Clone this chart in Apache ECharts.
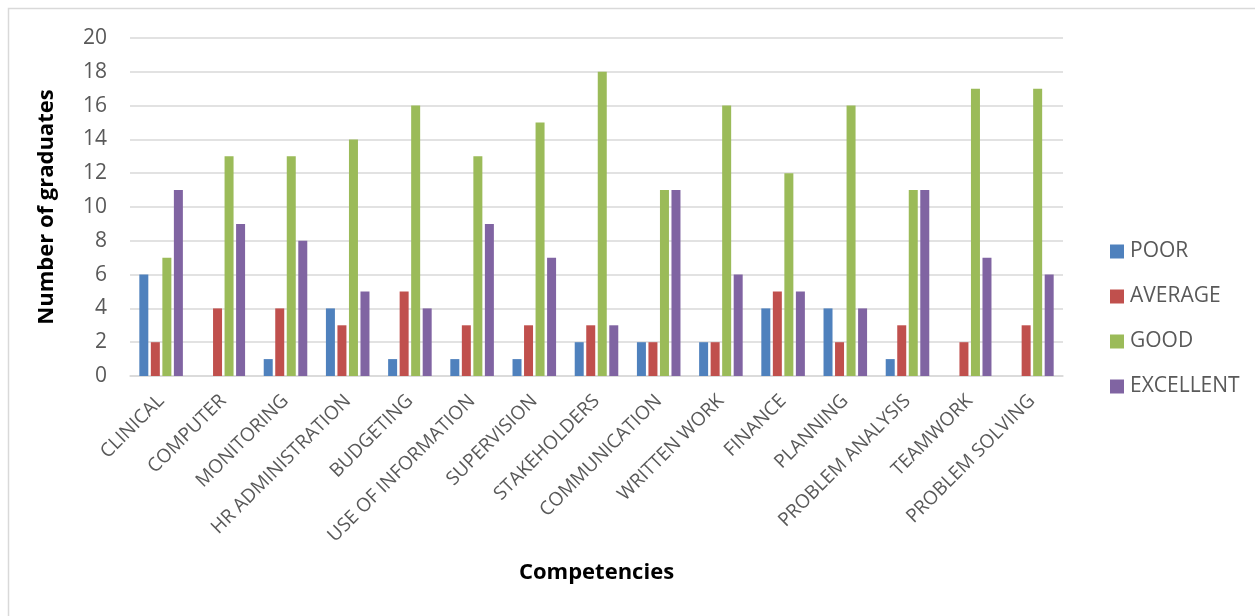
<!DOCTYPE html>
<html>
<head>
<meta charset="utf-8">
<script src="https://cdn.jsdelivr.net/npm/echarts@6/dist/echarts.min.js"></script>
<style>
html,body{margin:0;padding:0;background:#fff;}
#chart{width:1255px;height:616px;}
</style>
</head>
<body>
<div id="chart"></div>
<script>
const categories = ["CLINICAL","COMPUTER","MONITORING","HR ADMINISTRATION","BUDGETING","USE OF INFORMATION","SUPERVISION","STAKEHOLDERS","COMMUNICATION","WRITTEN WORK","FINANCE","PLANNING","PROBLEM ANALYSIS","TEAMWORK","PROBLEM SOLVING"];
const poor      = [6,0,1,4,1,1,1,2,2,2,4,4,1,0,0];
const average   = [2,4,4,3,5,3,3,3,2,2,5,2,3,2,3];
const good      = [7,13,13,14,16,13,15,18,11,16,12,16,11,17,17];
const excellent = [11,9,8,5,4,9,7,3,11,6,5,4,11,7,6];
const seriesNames = ["POOR","AVERAGE","GOOD","EXCELLENT"];
const colors = ["#4F81BD","#C0504D","#9BBB59","#8064A2"];
const yTicks = [0,2,4,6,8,10,12,14,16,18,20];

const chart = echarts.init(document.getElementById('chart'), null, {renderer:'canvas'});
const font = "'Open Sans', 'Liberation Sans', sans-serif";
const boldFont = "'Open Sans', 'Liberation Sans', sans-serif";
const values = [poor, average, good, excellent];

chart.setOption({
  animation:false,
  color: colors,
  graphic:[{
    type:'rect',
    shape:{x:8.5,y:8.5,width:1400,height:800},
    style:{fill:'none',stroke:'#d9d9d9',lineWidth:1.5},
    silent:true
  }],
  grid:{left:130,right:192,top:38,bottom:240,containLabel:false},
  legend:{
    orient:'vertical',
    left:1105,
    top:236,
    itemWidth:14,
    itemHeight:14,
    itemGap:24,
    icon:'rect',
    textStyle:{color:'#595959',fontSize:21,fontFamily:font,padding:[0,0,0,1]},
    data: seriesNames
  },
  xAxis:{
    type:'category',
    data:categories,
    name:'Competencies',
    nameLocation:'middle',
    nameGap:186,
    nameTextStyle:{color:'#000',fontSize:22,fontWeight:'bold',fontFamily:boldFont},
    axisLine:{lineStyle:{color:'#d9d9d9',width:1.5}},
    axisTick:{show:false},
    axisLabel:{rotate:45,color:'#595959',fontSize:19,fontFamily:font,margin:22,interval:0}
  },
  yAxis:{
    type:'value',
    min:0,max:20,interval:2,
    name:'Number of graduates',
    nameLocation:'middle',
    nameGap:72,
    nameTextStyle:{color:'#000',fontSize:22,fontWeight:'bold',fontFamily:boldFont},
    axisLine:{show:false},
    axisTick:{show:false},
    axisLabel:{color:'#595959',fontSize:21,fontFamily:font,margin:23,
      formatter:function(v){return yTicks.indexOf(v)>=0?String(v):'';}},
    splitLine:{lineStyle:{color:'#d9d9d9',width:1.5}}
  },
  series: seriesNames.map(function(n,i){
    return {
      name:n,
      type:'bar',
      data:values[i],
      barWidth:9,
      barGap:'28%',
      itemStyle:{color:colors[i]}
    };
  })
});
</script>
</body>
</html>
